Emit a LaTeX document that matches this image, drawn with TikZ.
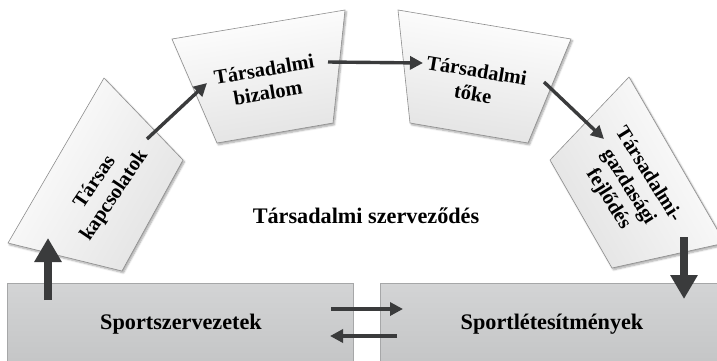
\documentclass[tikz,border=0pt]{standalone}
\usepackage{fontspec}
\setmainfont{Liberation Serif}
\usetikzlibrary{arrows.meta,shadows.blur}
\definecolor{arrowgray}{HTML}{3A3B3C}
\definecolor{boxedge}{HTML}{8E8E8E}
\definecolor{basetop}{HTML}{D3D4D5}
\definecolor{basebot}{HTML}{C4C5C6}
\definecolor{baseedge}{HTML}{A6A7A8}
\begin{document}
\begin{tikzpicture}[x=1bp,y=-1bp,
  trapbox/.style={draw=boxedge, line width=0.6bp, top color=white, bottom color=black!11,
    blur shadow={shadow xshift=1.5bp, shadow yshift=-1.8bp, shadow blur steps=6, shadow opacity=35}},
  basebox/.style={draw=baseedge, line width=0.6bp, top color=basetop, bottom color=basebot},
  boxtext/.style={font=\bfseries\fontsize{20.5}{23.5}\selectfont, align=center, inner sep=0pt},
  bigtext/.style={font=\bfseries\fontsize{22.3}{24}\selectfont, inner sep=0pt, anchor=base},
  thinarrow/.style={draw=arrowgray, line width=3.4bp, -{Triangle[length=13bp,width=13bp]}},
  thickarrow/.style={draw=arrowgray, line width=8bp, -{Triangle[length=24bp,width=26bp]}}]
\useasboundingbox (0,0) rectangle (717,360);
\clip (0,0) rectangle (717,360);
% bottom boxes
\path[basebox] (7,283) rectangle (353,366);
\path[basebox] (380,283) rectangle (730,366);
% trapezoid boxes
\path[trapbox, shading angle=60] (104,78) -- (183,160) -- (122,271) -- (8,243) -- cycle;
\path[trapbox, shading angle=9.5] (172,39) -- (345,10) -- (333,123) -- (217,143) -- cycle;
\path[trapbox, shading angle=-9.5] (398,10) -- (571,39) -- (528,143) -- (410,123) -- cycle;
\path[trapbox, shading angle=-60] (629,77) -- (725,243) -- (612,268) -- (550,160) -- cycle;
% texts
\node[boxtext, rotate=56] (tk) at (105,189) {Társas\\kapcsolatok};
\node[boxtext, rotate=9.5] (tb) at (266,81) {Társadalmi\\bizalom};
\node[boxtext, rotate=-9.5] (tt) at (475,82) {Társadalmi\\tőke};
\node[boxtext, rotate=-58] (tg) at (628,187) {Társadalmi-\\gazdasági\\fejlődés};
\node[bigtext] (ts) at (366,223) {Társadalmi szerveződés};
\node[bigtext] (sz) at (181,329) {Sportszervezetek};
\node[bigtext] (sl) at (552,329) {Sportlétesítmények};
% connector end points
\coordinate (a1s) at (147,139); \coordinate (a1e) at (207,83);
\coordinate (a2s) at (328,62);  \coordinate (a2e) at (423,63);
\coordinate (a3s) at (544,82);  \coordinate (a3e) at (604,139);
\coordinate (ups) at (48,300);  \coordinate (upe) at (48,238);
\coordinate (dns) at (684,237); \coordinate (dne) at (684,299);
\coordinate (rs) at (331,309);  \coordinate (re) at (403,309);
\coordinate (ls) at (397,336);  \coordinate (le) at (330,336);
% connectors
\draw[thinarrow] (a1s) -- (a1e);
\draw[thinarrow] (a2s) -- (a2e);
\draw[thinarrow] (a3s) -- (a3e);
\draw[thickarrow] (ups) -- (upe);
\draw[thickarrow] (dns) -- (dne);
\draw[thinarrow] (rs) -- (re);
\draw[thinarrow] (ls) -- (le);
\end{tikzpicture}
\end{document}
